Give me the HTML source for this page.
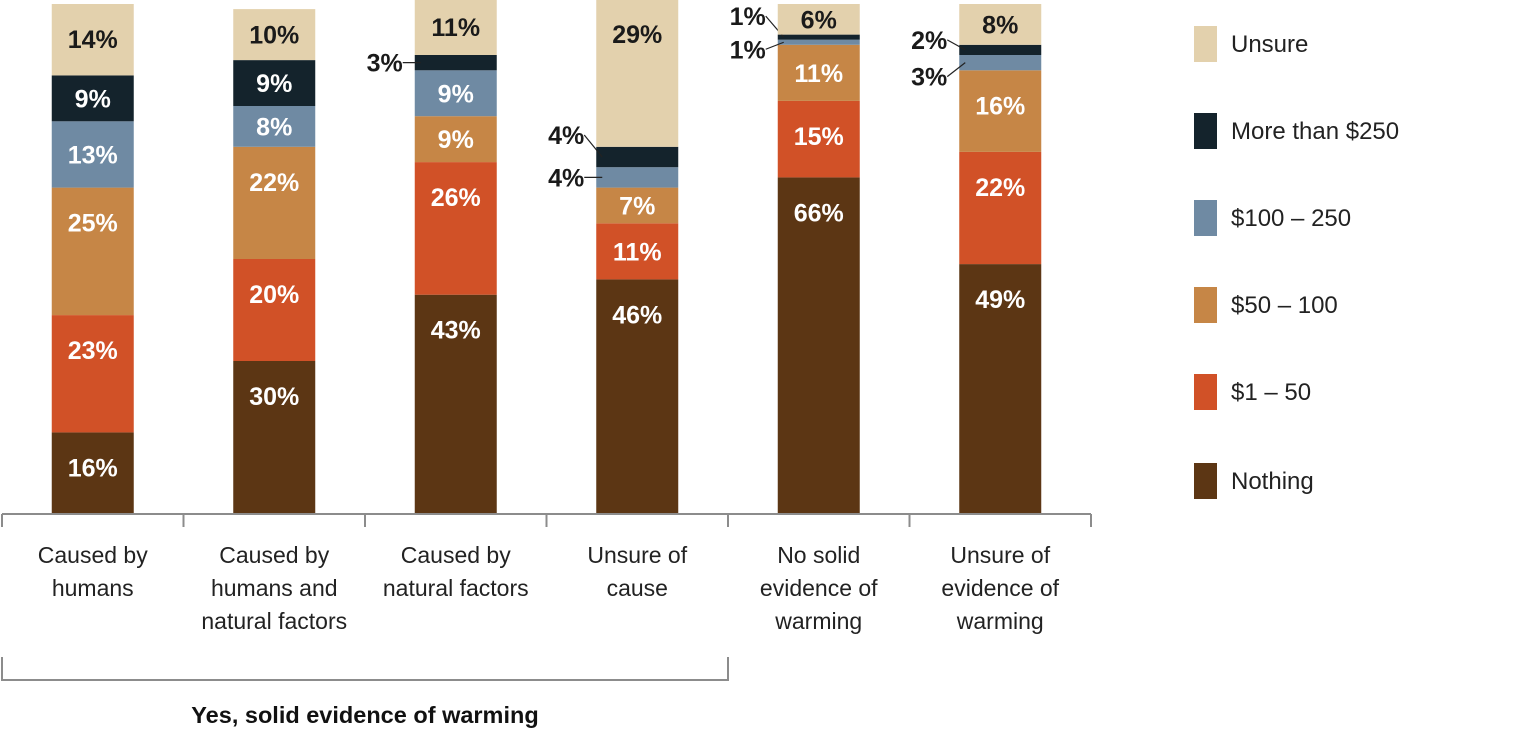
<!DOCTYPE html>
<html><head><meta charset="utf-8"><style>
body{margin:0;background:#fff;width:1536px;height:741px;overflow:hidden}
svg text{font-family:"Liberation Sans Narrow","Liberation Sans",sans-serif}
</style></head><body>
<svg id="chart" width="1536" height="741" viewBox="0 0 1536 741" xmlns="http://www.w3.org/2000/svg"></svg>
<script>
const categories = [["Caused by","humans"],["Caused by","humans and","natural factors"],["Caused by","natural factors"],["Unsure of","cause"],["No solid","evidence of","warming"],["Unsure of","evidence of","warming"]];
const seriesNames = ["Nothing","$1 – 50","$50 – 100","$100 – 250","More than $250","Unsure"];
const nothing = [16,30,43,46,66,49];
const oneTo50 = [23,20,26,11,15,22];
const fiftyTo100 = [25,22,9,7,11,16];
const hundredTo250 = [13,8,9,4,1,3];
const over250 = [9,9,3,4,1,2];
const unsure = [14,10,11,29,6,8];
const seriesValues = [nothing,oneTo50,fiftyTo100,hundredTo250,over250,unsure];
const colors = ["#5c3614","#d15127","#c68646","#6f8aa3","#14232c","#e3d1ad"];
const smallDyTop = [0,0,0,-22,-21,-10];
const smallDyLow = [0,0,0,0,7,14];

const svg = document.getElementById('chart');
const NS = "http://www.w3.org/2000/svg";
function mk(tag, attrs, parent){const e=document.createElementNS(NS,tag);for(const k in attrs)e.setAttribute(k,attrs[k]);(parent||svg).appendChild(e);return e;}
function txt(x,y,str,anchor,size,weight,fill,parent){
  const t=mk('text',{x:x,y:y,'text-anchor':anchor,'font-size':size,'font-weight':weight,fill:fill},parent);
  t.textContent=str;return t;
}
const baseY=514, pxPer=5.1, x0=2, groupW=181.5, barW=82;
const yScale = v => baseY - v*pxPer;
const xCenter = i => x0 + groupW*(i+0.5);

categories.forEach((c,i)=>{
  let cum=0;
  seriesValues.forEach((s,j)=>{
    const v=s[i]; const yTop=yScale(cum+v), yBot=yScale(cum);
    const r=mk('rect',{x:xCenter(i)-barW/2,y:yTop,width:barW,height:yBot-yTop,fill:colors[j]});
    
    
    const mid=(yTop+yBot)/2;
    if(v>=5){
      const cy=yTop+Math.min(35,(yBot-yTop)/2);
      const t=txt(xCenter(i),cy+9,v+'%','middle',25,'bold',j===5?'#1a1a1a':'#fff');
      
      
    } else {
      const xl=xCenter(i)-barW/2;
      const ly = mid + (j===4 ? smallDyTop[i] : smallDyLow[i]);
      const line=mk('line',{x1:xl-12,y1:ly,x2:xl+6,y2:mid,stroke:'#222','stroke-width':1.2});
      
      
      const t=txt(xl-12,ly+9,v+'%','end',25,'bold','#1a1a1a');
      
      
    }
    cum+=v;
  });
  c.forEach((ln,k)=>{
    const t=txt(xCenter(i),563+k*33,ln,'middle',23,'normal','#222');
    
    
  });
});
const ax=mk('line',{x1:x0,y1:baseY,x2:x0+groupW*6,y2:baseY,stroke:'#8c8c8c','stroke-width':2});


for(let k=0;k<=6;k++){
  const tk=mk('line',{x1:x0+groupW*k,y1:baseY,x2:x0+groupW*k,y2:527,stroke:'#8c8c8c','stroke-width':2});
  
  
}
const br=mk('path',{d:`M${x0} 657 V680 H${x0+groupW*4} V657`,fill:'none',stroke:'#8c8c8c','stroke-width':2});


const bt=txt(365,723,'Yes, solid evidence of warming','middle',23.5,'bold','#111');


const legendY=[481,392,305,218,131,44];
seriesNames.forEach((n,j)=>{
  const g=mk('g',{});
  
  
  mk('rect',{x:1194,y:legendY[j]-18,width:23,height:36,fill:colors[j]},g);
  txt(1231,legendY[j]+8,n,'start',24,'normal','#222',g);
});
</script>
</body></html>
